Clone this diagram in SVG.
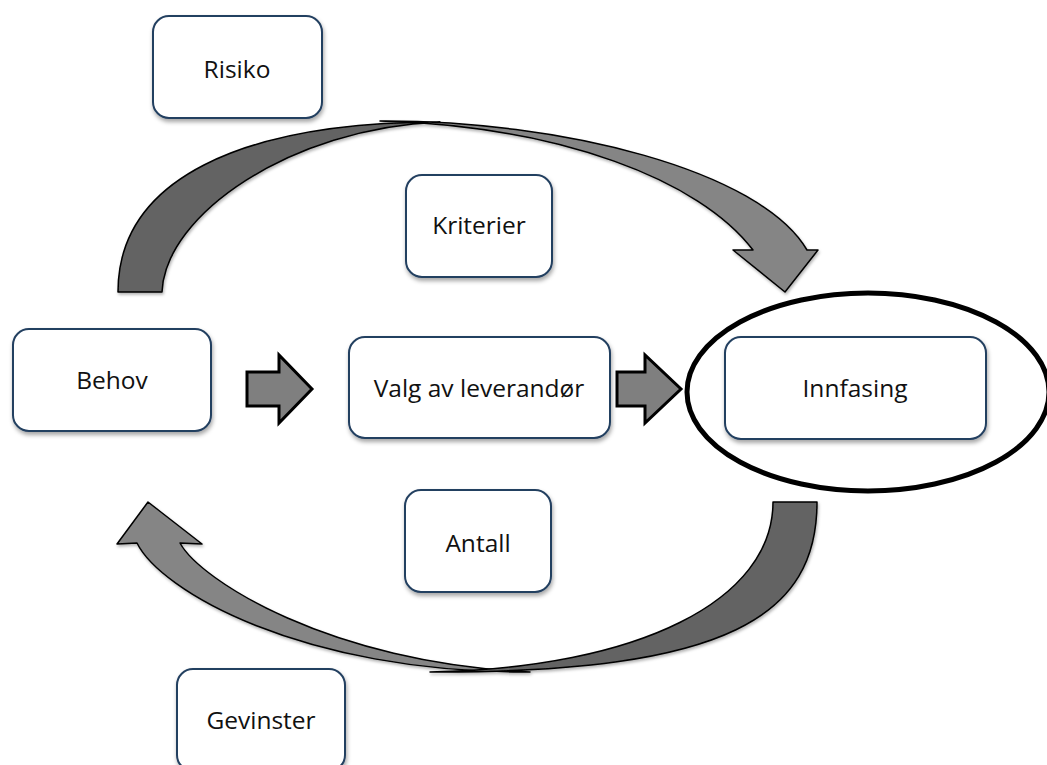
<svg xmlns="http://www.w3.org/2000/svg" width="1047" height="765" viewBox="0 0 1047 765">
<defs>
<filter id="sh" x="-10%" y="-10%" width="130%" height="140%">
<feDropShadow dx="1" dy="3" stdDeviation="2" flood-color="#000" flood-opacity="0.35"/>
</filter>
<filter id="ash" x="-10%" y="-10%" width="130%" height="140%">
<feDropShadow dx="1" dy="2" stdDeviation="1.5" flood-color="#000" flood-opacity="0.3"/>
</filter>
</defs>
<style>
.box{fill:#fff;stroke:#243f60;stroke-width:2;filter:url(#sh)}
.lbl{font-family:"Open Sans","Liberation Sans",sans-serif;font-size:24.5px;fill:#111;text-anchor:middle;dominant-baseline:central}
.dark{fill:#636363;stroke:#000;stroke-width:1.5;stroke-linejoin:round}
.light{fill:#858585;stroke:#000;stroke-width:1.5;stroke-linejoin:round}
.blk{fill:#7f7f7f;stroke:#000;stroke-width:3;stroke-linejoin:miter}
</style>
<g id="connectors">
<g filter="url(#ash)">
<path class="dark" d="M118,292 C118,180 240,122 440,122 C290,128 165,215 162,292 Z"/>
<path class="light" d="M380,121 C560,120 760,170 807,250 L818,250 L785,292 L733,250 L753,250 C700,180 560,126 380,121 Z"/>
</g>
<g filter="url(#ash)">
<path class="light" d="M530,672 C300,673 160,590 137,543 L117,544 L148,502 L202,544 L180,543 C200,580 330,663 530,672 Z"/>
<path class="dark" d="M817,502 C817,615 730,673 430,672 C640,668 773,600 773,502 Z"/>
</g>
<path class="blk" d="M247,372 L279,372 L279,355 L312,389 L279,423 L279,406 L247,406 Z"/>
<path class="blk" d="M617,372 L645,372 L645,355 L681,389 L645,423 L645,406 L617,406 Z"/>
</g>
<g id="risiko"><rect class="box" x="153" y="16" width="169" height="102" rx="16"/><text class="lbl" x="237" y="68">Risiko</text></g>
<g id="kriterier"><rect class="box" x="406" y="175" width="146" height="102" rx="16"/><text class="lbl" x="479" y="224">Kriterier</text></g>
<g id="behov"><rect class="box" x="13" y="329" width="198" height="102" rx="16"/><text class="lbl" x="112" y="379">Behov</text></g>
<g id="valg"><rect class="box" x="349" y="337" width="261" height="101" rx="16"/><text class="lbl" x="479" y="387">Valg av leverandør</text></g>
<g id="innfasing"><rect class="box" x="725" y="337" width="261" height="102" rx="16"/><text class="lbl" x="855" y="387">Innfasing</text>
<ellipse cx="868" cy="392" rx="181" ry="99" fill="none" stroke="#000" stroke-width="5"/></g>
<g id="antall"><rect class="box" x="405" y="490" width="146" height="102" rx="16"/><text class="lbl" x="478" y="542">Antall</text></g>
<g id="gevinster"><rect class="box" x="177" y="669" width="168" height="102" rx="16"/><text class="lbl" x="261" y="719">Gevinster</text></g>
</svg>
